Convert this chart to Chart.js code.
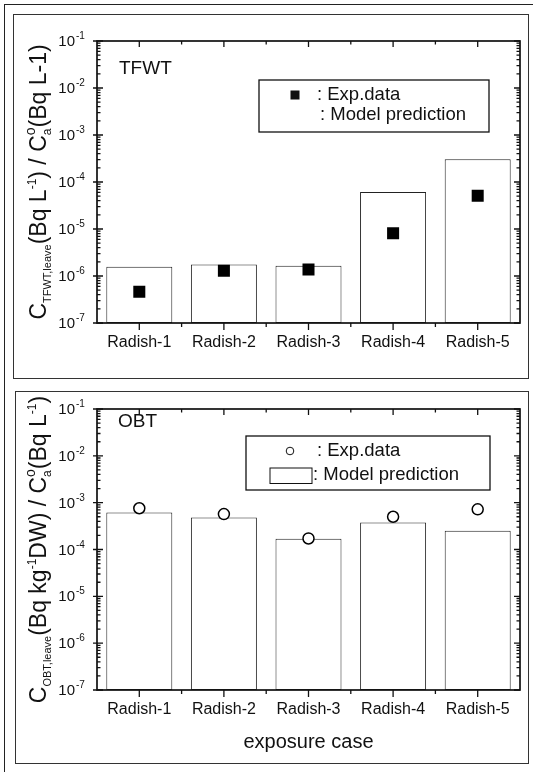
<!DOCTYPE html>
<html>
<head>
<meta charset="utf-8">
<script src="https://cdn.jsdelivr.net/npm/chart.js@4.4.1/dist/chart.umd.min.js"></script>
<style>
  html, body { margin: 0; padding: 0; background: #fff; }
  #page { position: relative; width: 533px; height: 772px; overflow: hidden; }
  .outer { position: absolute; left: 4px; top: 4px; width: 600px; height: 800px;
           border-left: 1.5px solid #222; border-top: 1.5px solid #222; }
  .panel { position: absolute; border: 1.5px solid #333; }
  .holder { position: absolute; left: 0; width: 533px; height: 386px; }
</style>
</head>
<body>
<div id="page">
  <div class="outer"></div>
  <div class="panel" style="left:13px;top:14px;width:514px;height:363px"></div>
  <div class="panel" style="left:15px;top:391px;width:512px;height:371px"></div>
  <div class="holder" style="top:0"><canvas id="tfwt"></canvas></div>
  <div class="holder" style="top:386px"><canvas id="obt"></canvas></div>
</div>
<script>
// categories and values
const categories = ['Radish-1', 'Radish-2', 'Radish-3', 'Radish-4', 'Radish-5'];
const tfwtModel = [1.58e-6, 1.76e-6, 1.65e-6, 6.1e-5, 3.05e-4];
const tfwtExp   = [4.6e-7, 1.3e-6, 1.37e-6, 8.1e-6, 5.1e-5];
const obtModel  = [6.2e-4, 4.85e-4, 1.7e-4, 3.75e-4, 2.5e-4];
const obtExp    = [7.6e-4, 5.7e-4, 1.72e-4, 5.0e-4, 7.2e-4];
const yTickValues = [1e-7, 1e-6, 1e-5, 1e-4, 1e-3, 1e-2, 1e-1];
const yTickExponents = ['-7', '-6', '-5', '-4', '-3', '-2', '-1'];

const FONT = '"Liberation Sans", Arial, Helvetica, sans-serif';
const INK = '#111';
function font(px) { return px + 'px ' + FONT; }

// draws a run of text pieces [text, size, dy, advance?] centred on 0
function drawRich(ctx, parts) {
    let total = 0;
    parts.forEach(p => {
        ctx.font = font(p[1]);
        total += p[3] !== undefined ? p[3] : ctx.measureText(p[0]).width;
    });
    let cx = -total / 2;
    parts.forEach(p => {
        ctx.font = font(p[1]);
        ctx.fillText(p[0], cx, p[2]);
        cx += p[3] !== undefined ? p[3] : ctx.measureText(p[0]).width;
    });
}

// Origin style frame: box, inward ticks, log labels, y title, tag and legend
const originFrame = {
    id: 'originFrame',
    afterDraw(chart, args, opts) {
        const ctx = chart.ctx;
        const a = chart.chartArea;
        const x = chart.scales.x, y = chart.scales.y;
        ctx.save();
        ctx.strokeStyle = INK;
        ctx.fillStyle = INK;

        ctx.lineWidth = 1.7;
        ctx.strokeRect(a.left, a.top, a.right - a.left, a.bottom - a.top);

        ctx.lineWidth = 1.3;
        ctx.beginPath();
        yTickValues.forEach((v, i) => {
            const py = y.getPixelForValue(v);
            ctx.moveTo(a.left - 4, py); ctx.lineTo(a.left + 6, py);
            ctx.moveTo(a.right - 6, py); ctx.lineTo(a.right, py);
            if (i < yTickValues.length - 1) {
                for (let k = 2; k <= 9; k++) {
                    const pm = y.getPixelForValue(v * k);
                    ctx.moveTo(a.left, pm); ctx.lineTo(a.left + 3.5, pm);
                    ctx.moveTo(a.right - 3.5, pm); ctx.lineTo(a.right, pm);
                }
            }
        });
        categories.forEach((c, i) => {
            const px = x.getPixelForValue(i);
            ctx.moveTo(px, a.top); ctx.lineTo(px, a.top + 6);
            ctx.moveTo(px, a.bottom); ctx.lineTo(px, a.bottom + 7);
            if (i > 0) {
                const pb = (px + x.getPixelForValue(i - 1)) / 2;
                ctx.moveTo(pb, a.top); ctx.lineTo(pb, a.top + 3.5);
                ctx.moveTo(pb, a.bottom); ctx.lineTo(pb, a.bottom + 4);
            }
        });
        ctx.stroke();

        // y tick labels 10^n
        yTickValues.forEach((v, i) => {
            const py = y.getPixelForValue(v);
            ctx.font = font(15);
            ctx.textAlign = 'right';
            ctx.textBaseline = 'middle';
            ctx.fillText('10', a.left - 22, py + 1);
            ctx.font = font(10);
            ctx.textAlign = 'left';
            ctx.textBaseline = 'alphabetic';
            ctx.fillText(yTickExponents[i], a.left - 21, py - 2);
        });

        // rotated y title
        ctx.save();
        ctx.translate(opts.titleX, (a.top + a.bottom) / 2);
        ctx.rotate(-Math.PI / 2);
        ctx.textAlign = 'left';
        ctx.textBaseline = 'alphabetic';
        drawRich(ctx, opts.title);
        ctx.restore();

        // panel tag
        ctx.font = font(19);
        ctx.textAlign = 'left';
        ctx.textBaseline = 'alphabetic';
        ctx.fillText(opts.tag, opts.tagX, opts.tagY);

        // legend
        const L = opts.legend;
        const ds = chart.data.datasets;
        ctx.lineWidth = 1.3;
        ctx.strokeRect(L.x, L.y, L.w, L.h);
        if (L.marker === 'rect') {
            ctx.fillRect(L.mx - 4.5, L.my - 4.5, 9, 9);
        } else {
            ctx.beginPath();
            ctx.arc(L.mx, L.my, 3.8, 0, Math.PI * 2);
            ctx.fillStyle = '#fff';
            ctx.fill();
            ctx.lineWidth = 1;
            ctx.stroke();
            ctx.fillStyle = INK;
        }
        if (L.swatch) {
            ctx.lineWidth = 1;
            ctx.strokeRect(L.swatch[0], L.swatch[1], L.swatch[2], L.swatch[3]);
        }
        ctx.font = font(18.5);
        ctx.textBaseline = 'middle';
        ctx.fillText(': ' + ds[0].label, L.t1x, L.my);
        ctx.fillText(': ' + ds[1].label, L.t2x, L.t2y);
        ctx.restore();
    }
};

function buildChart(id, o) {
    return new Chart(document.getElementById(id), {
        type: 'bar',
        data: {
            labels: categories,
            datasets: [{
                type: 'line',
                label: 'Exp.data',
                data: o.exp,
                showLine: false,
                pointStyle: o.pointStyle,
                pointRadius: o.pointRadius,
                pointHoverRadius: o.pointRadius,
                pointBackgroundColor: o.pointFill,
                pointBorderColor: '#000',
                pointBorderWidth: o.pointBorder,
                order: 0
            }, {
                type: 'bar',
                label: 'Model prediction',
                data: o.model,
                backgroundColor: '#fff',
                borderColor: '#222',
                borderWidth: 1,
                borderSkipped: false,
                barPercentage: 0.78,
                categoryPercentage: 1,
                order: 1
            }]
        },
        options: {
            responsive: true,
            maintainAspectRatio: false,
            animation: false,
            layout: { padding: { left: 0, right: 13, top: o.padTop, bottom: o.padBottom } },
            plugins: {
                legend: { display: false },
                tooltip: { enabled: false },
                originFrame: o.frame
            },
            scales: {
                x: {
                    type: 'category',
                    offset: true,
                    grid: { display: false, drawTicks: false },
                    border: { display: false },
                    ticks: {
                        color: INK,
                        font: { family: FONT, size: 16 },
                        padding: 10,
                        autoSkip: false,
                        maxRotation: 0
                    },
                    title: o.xTitle ? {
                        display: true,
                        text: o.xTitle,
                        color: INK,
                        font: { family: FONT, size: 20 },
                        padding: 0
                    } : { display: false },
                    afterFit: function (s) { s.height = o.xHeight; }
                },
                y: {
                    type: 'logarithmic',
                    min: 1e-7,
                    max: 1e-1,
                    grid: { display: false, drawTicks: false },
                    border: { display: false },
                    ticks: { display: false },
                    afterFit: function (s) { s.width = 97; }
                }
            }
        },
        plugins: [originFrame]
    });
}

buildChart('tfwt', {
    exp: tfwtExp,
    model: tfwtModel,
    pointStyle: 'rect',
    pointRadius: 8.5,
    pointFill: '#000',
    pointBorder: 0,
    padTop: 41,
    padBottom: 0,
    xHeight: 63,
    frame: {
        titleX: 46,
        title: [['C', 23, 0], ['TFWT,leave', 11, 5], ['(Bq L', 23, 0], ['-1', 12, -10],
                [') / ', 23, 0], ['C', 23, 0], ['a', 12, 5, 0], ['o', 14, -11], ['(Bq L-1)', 23, 0]],
        tag: 'TFWT', tagX: 119, tagY: 74,
        legend: { x: 259, y: 80, w: 230, h: 52, marker: 'rect', mx: 295, my: 95,
                  t1x: 317, t2x: 320, t2y: 115 }
    }
});

buildChart('obt', {
    exp: obtExp,
    model: obtModel,
    pointStyle: 'circle',
    pointRadius: 5.5,
    pointFill: '#fff',
    pointBorder: 1.5,
    padTop: 23,
    padBottom: 18,
    xHeight: 64,
    xTitle: 'exposure case',
    frame: {
        titleX: 46,
        title: [['C', 23, 0], ['OBT,leave', 11, 5], ['(Bq kg', 23, 0], ['-1', 12, -10],
                ['DW) / ', 23, 0], ['C', 23, 0], ['a', 12, 5, 0], ['o', 14, -11],
                ['(Bq L', 23, 0], ['-1', 12, -10], [')', 23, 0]],
        tag: 'OBT', tagX: 118, tagY: 41,
        legend: { x: 246, y: 50, w: 244, h: 54, marker: 'circle', mx: 290, my: 65,
                  swatch: [270, 82, 42, 15.5], t1x: 317, t2x: 313, t2y: 89 }
    }
});
</script>
</body>
</html>
